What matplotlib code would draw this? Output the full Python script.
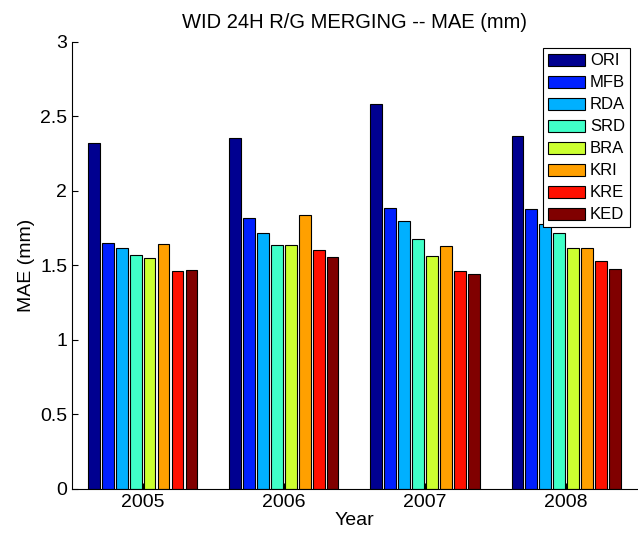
import matplotlib.pyplot as plt
import numpy as np

plt.rcParams['font.family'] = ['Liberation Sans', 'DejaVu Sans']

years = ['2005', '2006', '2007', '2008']
methods = ['ORI', 'MFB', 'RDA', 'SRD', 'BRA', 'KRI', 'KRE', 'KED']

# MAE per method, one value per year
mae = {
    'ORI': [2.32, 2.355, 2.582, 2.371],
    'MFB': [1.65, 1.817, 1.888, 1.877],
    'RDA': [1.615, 1.72, 1.80, 1.78],
    'SRD': [1.57, 1.635, 1.676, 1.72],
    'BRA': [1.55, 1.635, 1.56, 1.615],
    'KRI': [1.645, 1.837, 1.633, 1.615],
    'KRE': [1.465, 1.60, 1.461, 1.532],
    'KED': [1.47, 1.555, 1.441, 1.474],
}
colors = ['#000090', '#0020ff', '#00b0ff', '#40ffc8',
          '#ccff30', '#ffa000', '#ff1000', '#800000']

fig = plt.figure(figsize=(6.38, 5.36), dpi=100)
ax = fig.add_axes([0.113, 0.088, 0.885, 0.834])

x = np.arange(1, len(years) + 1)
n = len(methods)
slot = 0.79 / n
width = slot * 0.84

for i, m in enumerate(methods):
    offs = (i - (n - 1) / 2) * slot
    ax.bar(x + offs, mae[m], width, color=colors[i], edgecolor='black',
           linewidth=0.8, label=m)

ax.set_xlim(0.5, 4.5)
ax.set_ylim(0, 3)
ax.set_xticks(x)
ax.set_xticklabels(years)
ax.set_yticks([0, 0.5, 1, 1.5, 2, 2.5, 3])
ax.set_yticklabels(['0', '0.5', '1', '1.5', '2', '2.5', '3'])
ax.tick_params(direction='in', labelsize=14, length=4)
ax.spines['top'].set_visible(False)
ax.spines['right'].set_visible(False)

ax.set_xlabel('Year', fontsize=14, labelpad=1)
ax.set_ylabel('MAE (mm)', fontsize=14)
ax.set_title('WID 24H R/G MERGING -- MAE (mm)', fontsize=14.5, pad=10)

leg = ax.legend(loc='upper right', fontsize=12, fancybox=False,
                edgecolor='black', framealpha=1, handlelength=2.2,
                handleheight=0.75, labelspacing=0.42, borderpad=0.3,
                handletextpad=0.3, borderaxespad=0.4)
leg.get_frame().set_linewidth(0.8)

plt.savefig('out.png', dpi=100)
